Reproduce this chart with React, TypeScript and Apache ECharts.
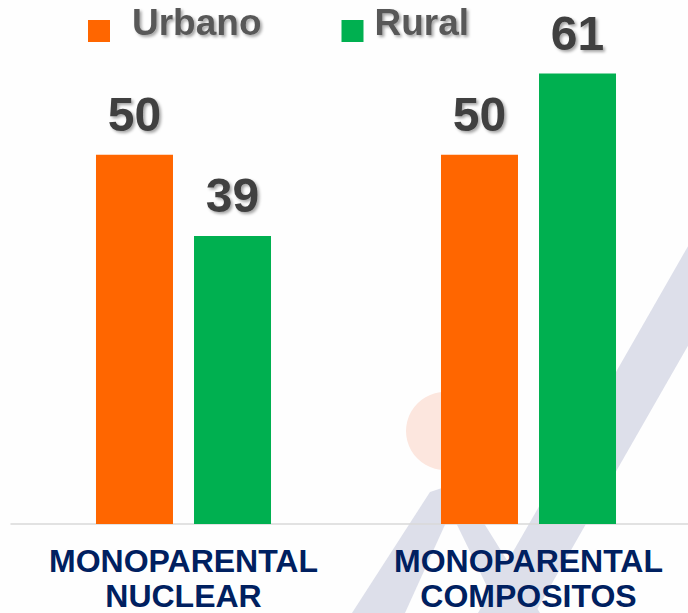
import React, { useEffect, useRef } from "react";
import * as echarts from "echarts";

const categories = ["MONOPARENTAL\nNUCLEAR", "MONOPARENTAL\nCOMPOSITOS"];
const seriesNames = ["Urbano", "Rural"];
const urbanoValues = [50, 50];
const ruralValues = [39, 61];
const seriesColors = ["#FF6600", "#00B050"];

const FONT = 'Arial, "Liberation Sans", sans-serif';

export default function App() {
  const ref = useRef<HTMLDivElement>(null);
  useEffect(() => {
    if (!ref.current) return;
    const chart = echarts.init(ref.current, undefined, { renderer: "svg" });
    const wm = "#DDDFEA";
    const labelStyle = {
      show: true,
      position: "top",
      distance: 16,
      fontSize: 48,
      fontWeight: "bold",
      fontFamily: FONT,
      color: "#404040",
      textShadowColor: "rgba(0,0,0,0.35)",
      textShadowBlur: 3,
      textShadowOffsetX: 2,
      textShadowOffsetY: 2,
    };
    const legendPads = [17, 6];
    chart.setOption({
      animation: false,
      backgroundColor: "#FEFEFE",
      graphic: [
        {
          type: "circle",
          z: -10,
          shape: { cx: 445, cy: 431, r: 39 },
          style: { fill: "#FCE6DE" },
        },
        {
          type: "polygon",
          z: -10,
          shape: { points: [[352, 613], [405, 613], [458, 496], [445, 487], [430, 492]] },
          style: { fill: wm },
        },
        {
          type: "polygon",
          z: -10,
          shape: { points: [[440, 490], [462, 488], [540, 613], [500, 613]] },
          style: { fill: wm },
        },
        {
          type: "polygon",
          z: -10,
          shape: { points: [[478, 613], [535, 613], [760, 220], [703, 220]] },
          style: { fill: wm },
        },
      ],
      legend: {
        data: seriesNames.map((n, i) => ({
          name: n,
          textStyle: { padding: [0, 0, 17, legendPads[i]] },
        })),
        left: 88,
        top: 4,
        padding: 0,
        itemWidth: 22,
        itemHeight: 22,
        itemGap: 80,
        icon: "rect",
        formatter: "{t|{name}}",
        textStyle: {
          padding: [0, 0, 17, 17],
          rich: {
            t: {
              fontSize: 37,
              fontWeight: "bold",
              fontFamily: FONT,
              color: "#595959",
              textShadowColor: "rgba(0,0,0,0.35)",
              textShadowBlur: 3,
              textShadowOffsetX: 2,
              textShadowOffsetY: 2,
            },
          },
        },
      },
      grid: { left: 11, top: 7, width: 690, height: 517, outerBoundsMode: "none", containLabel: false },
      xAxis: {
        type: "category",
        data: categories,
        axisLine: { lineStyle: { color: "#D9D9D9", width: 1.5 } },
        axisTick: { show: false },
        axisLabel: {
          margin: 19,
          fontSize: 32,
          lineHeight: 35,
          fontWeight: "bold",
          fontFamily: FONT,
          color: "#002060",
          interval: 0,
        },
      },
      yAxis: {
        type: "value",
        min: 0,
        max: 70,
        show: false,
        splitLine: { show: false },
      },
      series: [
        {
          name: seriesNames[0],
          type: "bar",
          data: urbanoValues,
          barWidth: 77,
          barGap: "27.3%",
          itemStyle: { color: seriesColors[0] },
          label: labelStyle,
        },
        {
          name: seriesNames[1],
          type: "bar",
          data: ruralValues,
          barWidth: 77,
          barGap: "27.3%",
          itemStyle: { color: seriesColors[1] },
          label: labelStyle,
        },
      ],
    });
    return () => chart.dispose();
  }, []);
  return (
    <div
      ref={ref}
      style={{ position: "fixed", left: 0, top: 0, width: 688, height: 613 }}
    />
  );
}
